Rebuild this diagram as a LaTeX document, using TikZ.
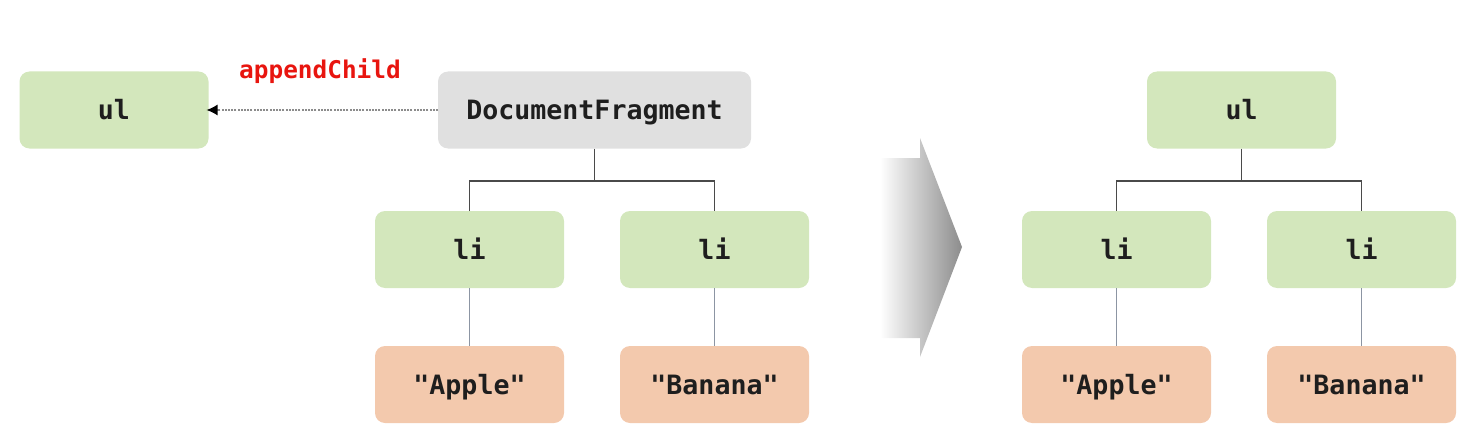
\documentclass[tikz,border=0pt]{standalone}
\usepackage{fontspec}
\setmonofont{DejaVu Sans Mono}
\usetikzlibrary{arrows.meta}
\definecolor{gfill}{HTML}{D3E7BC}
\definecolor{ofill}{HTML}{F3C9AD}
\definecolor{dfill}{HTML}{E0E0E0}
\definecolor{txt}{HTML}{1E1E1E}
\definecolor{lnk}{HTML}{4A4A4A}
\definecolor{lnkb}{HTML}{8C95A3}
\definecolor{redt}{HTML}{E8150F}
\begin{document}
\begin{tikzpicture}[x=0.5pt,y=-0.5pt,
  box/.style={rounded corners=5pt,inner sep=0pt,outer sep=0pt,minimum height=38.5pt,
    text height=9.6pt,text depth=0pt,
    font=\ttfamily\bfseries\fontsize{13.3}{15}\selectfont,text=txt},
  gbox/.style={box,fill=gfill,minimum width=94.5pt},
  obox/.style={box,fill=ofill,minimum width=94.5pt},
  dbox/.style={box,fill=dfill,minimum width=156.5pt},
  tree/.style={draw=lnk,line width=0.8pt},
  treeb/.style={draw=lnkb,line width=0.8pt}]
\useasboundingbox (0,0) rectangle (1482,444);
% left part
\node[gbox] (ul1) at (114,110) {ul};
\node[dbox] (df) at (594.5,110) {DocumentFragment};
\node[font=\ttfamily\bfseries\fontsize{12.2}{14}\selectfont,text=redt] (ac) at (320,71) {appendChild};
\node[gbox] (li1) at (469.5,249.5) {li};
\node[gbox] (li2) at (714.5,249.5) {li};
\node[obox] (ap1) at (469.5,384.5) {"Apple"};
\node[obox] (ba1) at (714.5,384.5) {"Banana"};
\coordinate (j1) at (594.5,181);
\draw[draw=gray!90,line width=0.65pt,dash pattern=on 1pt off 0.6pt,-{Latex[length=5.5pt,width=5.5pt,color=black]}] (df.west) -- ([xshift=-1pt]ul1.east);
\draw[tree] (df.south) -- (j1);
\draw[tree] (li1.north) |- (j1) -| (li2.north);
\draw[treeb] (li1.south) -- (ap1.north);
\draw[treeb] (li2.south) -- (ba1.north);
% big arrow
\shade[left color=white,right color=black!45]
  (880,158) -- (920,158) -- (920,138) -- (962,247) -- (920,357) -- (920,338) -- (880,338) -- cycle;
% right part
\node[gbox] (ul2) at (1241.5,110) {ul};
\node[gbox] (li3) at (1116.5,249.5) {li};
\node[gbox] (li4) at (1361.5,249.5) {li};
\node[obox] (ap2) at (1116.5,384.5) {"Apple"};
\node[obox] (ba2) at (1361.5,384.5) {"Banana"};
\coordinate (j2) at (1241.5,181);
\draw[tree] (ul2.south) -- (j2);
\draw[tree] (li3.north) |- (j2) -| (li4.north);
\draw[treeb] (li3.south) -- (ap2.north);
\draw[treeb] (li4.south) -- (ba2.north);
\end{tikzpicture}
\end{document}
